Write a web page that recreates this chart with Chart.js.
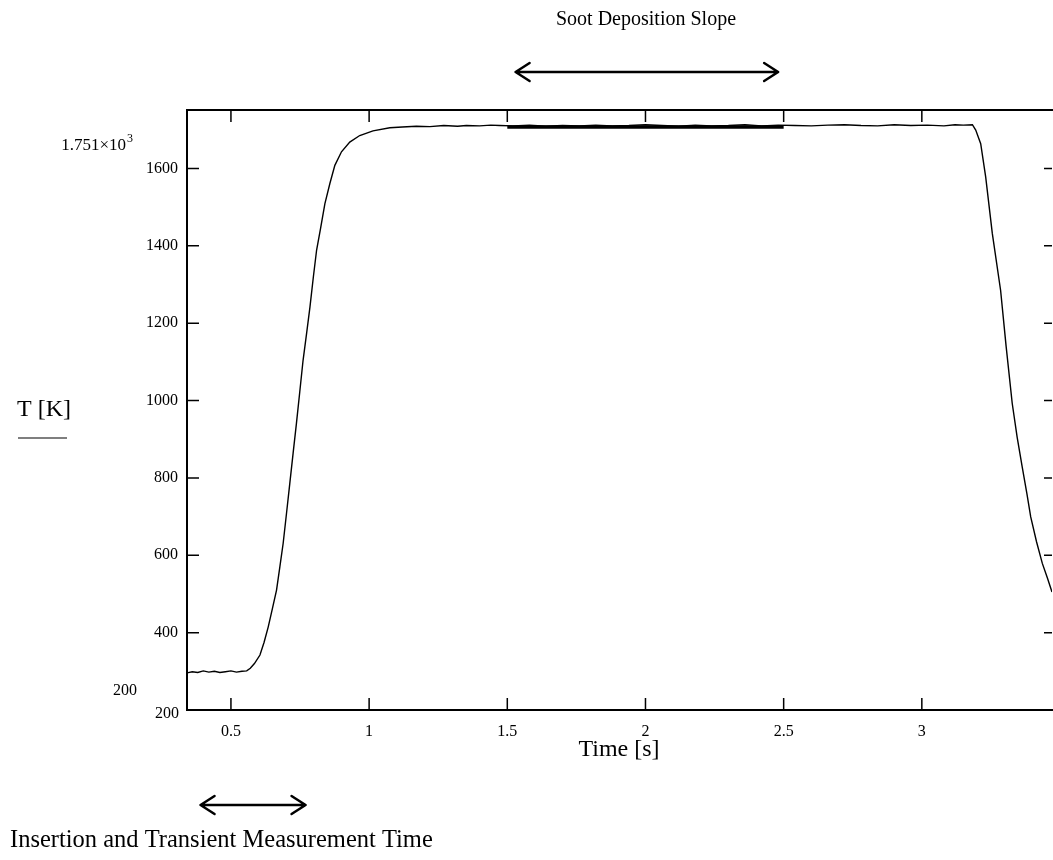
<!DOCTYPE html>
<html>
<head>
<meta charset="utf-8">
<script src="https://cdn.jsdelivr.net/npm/chart.js@4.4.1/dist/chart.umd.min.js"></script>
<style>
html,body{margin:0;padding:0;background:#fff;}
#wrap{width:1053px;height:860px;position:relative;}
</style>
</head>
<body>
<div id="wrap"><canvas id="c" width="1053" height="860"></canvas></div>
<script>
// ---- data ----
const timeS = [0.341,0.36,0.38,0.40,0.42,0.44,0.46,0.48,0.50,0.52,0.54,0.557,
  0.57,0.585,0.605,0.62,0.635,0.65,0.665,0.677,0.689,0.701,0.713,0.725,0.737,0.749,0.761,0.774,0.786,0.798,0.81,
  0.824,0.84,0.858,0.876,0.90,0.93,0.966,1.014,1.075,1.12,1.171,1.22,1.27,1.32,1.352,1.40,1.44,1.472,
  1.52,1.58,1.64,1.70,1.76,1.82,1.88,1.94,2.00,2.06,2.12,2.18,2.24,2.30,2.36,2.42,2.48,2.54,2.60,2.66,2.72,2.78,2.84,2.90,2.96,3.02,3.08,3.12,3.15,3.183,
  3.195,3.213,3.231,3.255,3.285,3.305,3.327,3.345,3.363,3.38,3.394,3.415,3.436,3.455,3.471];
const tempK = [296,299,297,301,298,300,297,299,301,298,300,301,
  308,320,342,375,415,462,510,570,631,708,786,864,941,1022,1104,1175,1242,1318,1389,
  1444,1509,1561,1608,1643,1668,1685,1697,1705,1707,1709,1708,1711,1709,1711,1710,1712,1711,
  1710,1712,1709,1711,1710,1712,1710,1711,1713,1711,1709,1712,1710,1711,1713,1710,1712,1711,1710,1712,1713,1711,1710,1713,1711,1712,1710,1713,1712,1713,
  1699,1664,1578,1432,1285,1140,993,905,829,760,699,635,579,540,505];
const slopeTime = [1.5, 2.5];
const slopeTemp = [1707, 1707];
const xTicks = [0.5, 1, 1.5, 2, 2.5, 3];
const yTicks = [200, 400, 600, 800, 1000, 1200, 1400, 1600];
const xMin = 0.341, xMax = 3.471;
const yMin = 200, yMax = 1751;
const topArrow = [1.53, 2.48];      // time span of "Soot Deposition Slope" arrow
const bottomArrow = [0.39, 0.77];   // time span of insertion arrow

const FONT = "'Liberation Serif', 'DejaVu Serif', serif";
const TICK_SIZE = 16;

function arrow(ctx, x1, x2, y) {
  ctx.save();
  ctx.strokeStyle = '#000';
  ctx.lineWidth = 2.5;
  ctx.lineCap = 'round';
  ctx.lineJoin = 'round';
  ctx.beginPath();
  ctx.moveTo(x1, y); ctx.lineTo(x2, y);
  ctx.moveTo(x1 + 14, y - 9); ctx.lineTo(x1, y); ctx.lineTo(x1 + 14, y + 9);
  ctx.moveTo(x2 - 14, y - 9); ctx.lineTo(x2, y); ctx.lineTo(x2 - 14, y + 9);
  ctx.stroke();
  ctx.restore();
}

const framePlugin = {
  id: 'frame',
  afterDraw(chart) {
    const ctx = chart.ctx;
    const a = chart.chartArea;
    const xs = chart.scales.x, ys = chart.scales.y;
    ctx.save();
    ctx.strokeStyle = '#000';
    ctx.lineWidth = 2;
    ctx.strokeRect(a.left, a.top, a.right - a.left + 4, a.bottom - a.top);
    ctx.lineWidth = 1.5;
    ctx.beginPath();
    xTicks.forEach(v => {
      const px = xs.getPixelForValue(v);
      ctx.moveTo(px, a.bottom); ctx.lineTo(px, a.bottom - 12);
      ctx.moveTo(px, a.top); ctx.lineTo(px, a.top + 12);
    });
    yTicks.forEach(v => {
      if (v === yMin) return;
      const py = ys.getPixelForValue(v);
      ctx.moveTo(a.left, py); ctx.lineTo(a.left + 12, py);
      ctx.moveTo(a.right, py); ctx.lineTo(a.right - 8, py);
    });
    ctx.stroke();

    ctx.fillStyle = '#000';
    // axis limit labels
    ctx.font = TICK_SIZE + 'px ' + FONT;
    ctx.textAlign = 'right';
    ctx.textBaseline = 'middle';
    ctx.fillText(String(yMin), 137, ys.getPixelForValue(yMin) - 19);
    ctx.fillText(String(yMin), a.left - 8, ys.getPixelForValue(yMin) + 4);
    ctx.font = '17px ' + FONT;
    ctx.fillText('1.751\u00d710', 126, ys.getPixelForValue(yMax) + 36);
    ctx.font = '12px ' + FONT;
    ctx.textAlign = 'left';
    ctx.fillText('3', 127, ys.getPixelForValue(yMax) + 29);

    // titles
    ctx.textAlign = 'center';
    ctx.font = '20px ' + FONT;
    ctx.fillText('Soot Deposition Slope', 646, 20);
    ctx.font = '24px ' + FONT;
    ctx.fillText('Time [s]', 619, 750);
    ctx.font = '24.5px ' + FONT;
    ctx.textAlign = 'left';
    ctx.fillText('Insertion and Transient Measurement Time', 10, 841);
    ctx.font = '24px ' + FONT;
    ctx.fillText('T [K]', 17, 410);
    ctx.lineWidth = 1.2;
    ctx.beginPath();
    ctx.moveTo(18, 438); ctx.lineTo(67, 438);
    ctx.stroke();
    ctx.restore();

    arrow(ctx, xs.getPixelForValue(topArrow[0]), xs.getPixelForValue(topArrow[1]), 72);
    arrow(ctx, xs.getPixelForValue(bottomArrow[0]), xs.getPixelForValue(bottomArrow[1]), 805);
  }
};

const ctx = document.getElementById('c').getContext('2d');
new Chart(ctx, {
  type: 'scatter',
  data: {
    datasets: [
      {
        data: timeS.map((t, i) => ({x: t, y: tempK[i]})),
        showLine: true,
        borderColor: '#000',
        borderWidth: 1.4,
        pointRadius: 0,
        tension: 0
      },
      {
        data: slopeTime.map((t, i) => ({x: t, y: slopeTemp[i]})),
        showLine: true,
        borderColor: '#000',
        borderWidth: 3.5,
        pointRadius: 0
      }
    ]
  },
  options: {
    responsive: false,
    animation: false,
    layout: {padding: {top: 110, right: 1, left: 0, bottom: 0}},
    plugins: {legend: {display: false}, tooltip: {enabled: false}},
    scales: {
      x: {
        type: 'linear', min: xMin, max: xMax,
        afterBuildTicks: s => { s.ticks = xTicks.map(v => ({value: v})); },
        afterFit: s => { s.height = 150; },
        grid: {display: false, drawTicks: false},
        border: {display: false},
        ticks: {color: '#000', font: {family: FONT, size: TICK_SIZE}, padding: 12,
          maxRotation: 0, autoSkip: false, callback: v => String(v)}
      },
      y: {
        type: 'linear', min: yMin, max: yMax,
        afterBuildTicks: s => { s.ticks = yTicks.map(v => ({value: v})); },
        afterFit: s => { s.width = 187; },
        grid: {display: false, drawTicks: false},
        border: {display: false},
        ticks: {color: '#000', font: {family: FONT, size: TICK_SIZE}, padding: 9,
          autoSkip: false, callback: v => (v === yMin ? '' : String(v))}
      }
    }
  },
  plugins: [framePlugin]
});
</script>
</body>
</html>
